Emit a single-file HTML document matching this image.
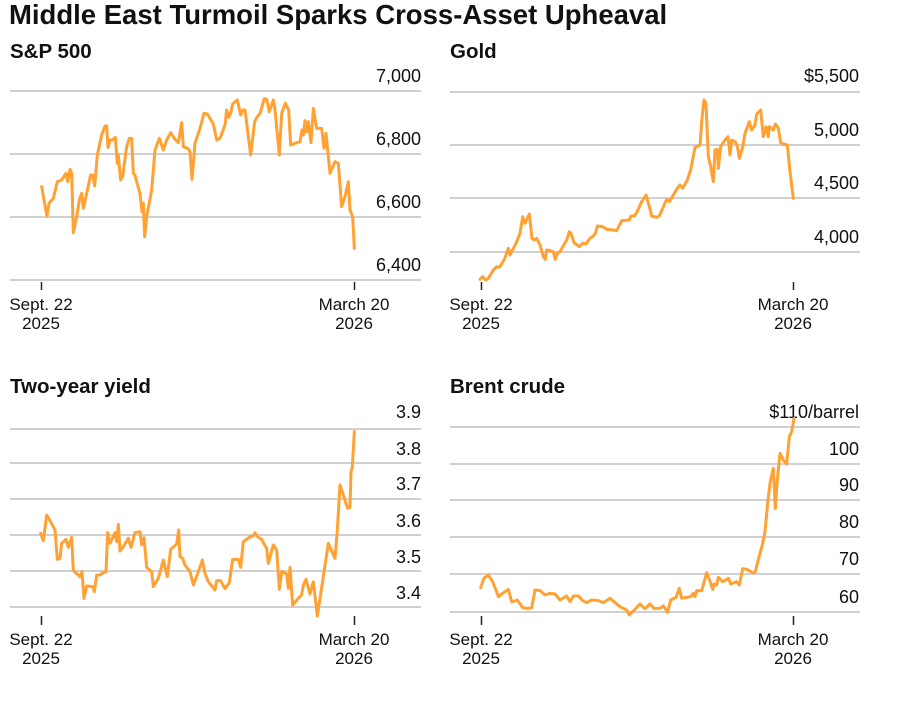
<!DOCTYPE html>
<html><head><meta charset="utf-8"><style>
body{margin:0;background:#fff;width:898px;height:702px;overflow:hidden}
svg{display:block}
text{font-family:"Liberation Sans",Arial,sans-serif;fill:#111}
.t{font-size:18px}
.d{font-size:17px}
.h{font-size:20.5px;font-weight:bold}
.g{stroke:#d0d0d0;stroke-width:2}
.k{stroke:#222;stroke-width:1.5}
.s{fill:none;stroke:#ffa233;stroke-width:9;stroke-linejoin:round;stroke-linecap:round}
</style></head><body>
<svg width="898" height="702" viewBox="0 0 898 702">
<text x="9" y="24" style="font-size:27.5px;font-weight:bold">Middle East Turmoil Sparks Cross-Asset Upheaval</text>
<text class="h" x="10" y="58">S&amp;P 500</text>
<text class="h" x="450" y="58">Gold</text>
<text class="h" x="10" y="393">Two-year yield</text>
<text class="h" x="450" y="393">Brent crude</text>
<g>
<line class="g" x1="10" x2="421" y1="91" y2="91"/><line class="g" x1="10" x2="421" y1="154" y2="154"/>
<line class="g" x1="10" x2="421" y1="217" y2="217"/><line class="g" x1="10" x2="421" y1="280" y2="280"/>
<g class="t" text-anchor="end"><text x="421" y="82">7,000</text><text x="421" y="145">6,800</text><text x="421" y="208">6,600</text><text x="421" y="271">6,400</text></g>
</g>
<g>
<line class="g" x1="450" x2="860" y1="92" y2="92"/><line class="g" x1="450" x2="860" y1="145" y2="145"/>
<line class="g" x1="450" x2="860" y1="198" y2="198"/><line class="g" x1="450" x2="860" y1="252" y2="252"/>
<g class="t" text-anchor="end"><text x="859" y="82">$5,500</text><text x="859" y="136">5,000</text><text x="859" y="189">4,500</text><text x="859" y="243">4,000</text></g>
</g>
<g>
<line class="g" x1="10" x2="421" y1="429" y2="429"/><line class="g" x1="10" x2="421" y1="463" y2="463"/>
<line class="g" x1="10" x2="421" y1="499" y2="499"/><line class="g" x1="10" x2="421" y1="535" y2="535"/>
<line class="g" x1="10" x2="421" y1="571" y2="571"/><line class="g" x1="10" x2="421" y1="607" y2="607"/>
<g class="t" text-anchor="end"><text x="421" y="418">3.9</text><text x="421" y="455">3.8</text><text x="421" y="490">3.7</text><text x="421" y="527">3.6</text><text x="421" y="563">3.5</text><text x="421" y="599">3.4</text></g>
</g>
<g>
<line class="g" x1="450" x2="860" y1="427" y2="427"/><line class="g" x1="450" x2="860" y1="464" y2="464"/>
<line class="g" x1="450" x2="860" y1="500" y2="500"/><line class="g" x1="450" x2="860" y1="537" y2="537"/>
<line class="g" x1="450" x2="860" y1="574" y2="574"/><line class="g" x1="450" x2="860" y1="612" y2="612"/>
<g class="t" text-anchor="end"><text x="859" y="418">$110/barrel</text><text x="859" y="455">100</text><text x="859" y="491">90</text><text x="859" y="528">80</text><text x="859" y="565">70</text><text x="859" y="603">60</text></g>
</g>
<g>
<line class="k" x1="41.5" x2="41.5" y1="282" y2="290"/><line class="k" x1="354.5" x2="354.5" y1="282" y2="290"/>
<line class="k" x1="481.5" x2="481.5" y1="282" y2="290"/><line class="k" x1="793.5" x2="793.5" y1="282" y2="290"/>
<line class="k" x1="41.5" x2="41.5" y1="616" y2="625"/><line class="k" x1="354.5" x2="354.5" y1="616" y2="625"/>
<line class="k" x1="481.5" x2="481.5" y1="616" y2="625"/><line class="k" x1="793.5" x2="793.5" y1="616" y2="625"/>
<g class="d" text-anchor="middle">
<text x="41" y="310">Sept. 22</text><text x="41" y="329">2025</text><text x="354" y="310">March 20</text><text x="354" y="329">2026</text>
<text x="481" y="310">Sept. 22</text><text x="481" y="329">2025</text><text x="793" y="310">March 20</text><text x="793" y="329">2026</text>
<text x="41" y="645">Sept. 22</text><text x="41" y="664">2025</text><text x="354" y="645">March 20</text><text x="354" y="664">2026</text>
<text x="481" y="645">Sept. 22</text><text x="481" y="664">2025</text><text x="793" y="645">March 20</text><text x="793" y="664">2026</text>
</g>
</g>
<g transform="scale(0.33333)"><polyline class="s" points="125,560 132,600 141,648 147,610 160,595 172,545 185,540 198,520 203,545 210,508 215,520 220,698 232,640 238,600 245,580 250,625 258,590 272,525 278,525 284,558 292,465 305,405 315,378 320,378 324,443 330,420 337,420 346,412 352,490 355,465 362,540 368,530 380,440 388,415 395,415 400,520 405,525 410,545 420,580 426,635 430,610 434,710 440,650 455,570 465,450 478,415 490,450 500,420 512,398 525,418 535,428 545,368 550,440 563,445 570,455 576,538 585,430 600,385 612,340 622,342 640,372 650,420 660,415 675,375 680,330 686,352 692,340 698,312 712,300 722,345 728,330 735,330 752,465 764,365 772,350 780,340 793,296 800,298 808,335 820,300 825,330 838,465 845,340 856,310 866,330 872,435 885,430 900,425 906,390 910,405 915,362 920,395 925,365 933,428 940,325 950,385 965,385 972,445 978,400 990,520 1005,485 1015,490 1025,620 1035,590 1045,545 1050,630 1058,650 1063,745"/></g>
<g transform="translate(440,60) scale(0.33333)"><polyline class="s" points="120,658 128,650 137,660 145,655 160,630 170,620 178,622 192,600 200,580 205,565 210,585 228,550 240,520 248,470 255,490 268,462 276,535 283,540 290,535 300,555 310,590 316,598 320,570 330,572 340,575 346,598 352,580 360,575 380,540 388,515 393,520 402,548 418,560 428,550 438,552 450,535 460,528 466,520 472,498 488,500 500,508 520,510 530,512 545,482 568,480 573,468 583,468 590,458 605,425 618,405 628,440 635,468 650,472 658,468 668,445 680,418 688,425 700,405 712,385 720,375 728,385 742,360 752,330 765,262 780,255 786,175 792,120 798,130 805,290 812,320 820,365 825,270 832,268 835,325 842,260 855,240 864,230 870,285 875,240 885,245 892,258 898,295 908,262 915,220 928,185 935,210 945,195 950,162 962,150 970,230 978,200 985,230 988,200 1000,210 1006,192 1015,205 1022,248 1030,252 1042,255 1050,335 1060,415"/></g>
<g transform="translate(0,390) scale(0.33333)"><polyline class="s" points="122,430 130,452 140,375 150,392 165,420 172,508 180,505 185,460 198,448 205,472 215,442 220,542 240,560 246,545 252,625 260,588 278,590 283,605 290,555 300,555 310,548 318,545 323,428 330,460 345,428 350,455 355,403 360,483 370,470 385,445 393,472 405,428 420,425 425,465 432,443 440,532 455,545 460,590 475,565 490,510 502,560 512,478 530,462 536,420 540,500 548,505 555,525 570,545 580,585 595,545 607,510 615,550 625,575 645,600 650,572 662,572 675,596 688,578 698,508 715,508 722,532 730,455 748,442 760,438 765,428 772,440 785,448 792,462 800,475 805,520 820,465 830,480 838,598 845,545 860,552 865,595 870,532 878,645 895,625 905,615 910,585 918,568 930,612 940,575 952,678 985,460 1005,505 1012,420 1020,285 1043,355 1050,352 1053,245 1057,232 1063,125"/></g>
<g transform="translate(440,380) scale(0.33333)"><polyline class="s" points="122,623 132,595 145,585 158,605 168,630 175,650 188,640 205,628 215,665 225,663 232,660 248,683 262,685 275,684 285,630 300,632 315,645 330,640 345,642 360,660 380,648 390,665 400,648 415,648 428,662 440,668 455,660 475,662 490,668 510,655 540,680 560,690 568,705 585,688 600,672 615,686 630,672 642,685 660,685 670,678 683,697 692,660 708,652 718,625 725,655 740,652 752,650 760,640 765,650 770,632 785,632 800,578 808,598 818,628 822,612 830,615 835,592 848,605 866,595 872,612 890,605 898,615 908,566 920,568 938,578 945,578 960,520 967,495 975,455 983,370 990,310 1000,265 1006,385 1012,300 1020,220 1030,240 1040,252 1048,170 1055,155 1062,115"/></g>
</svg>
</body></html>
